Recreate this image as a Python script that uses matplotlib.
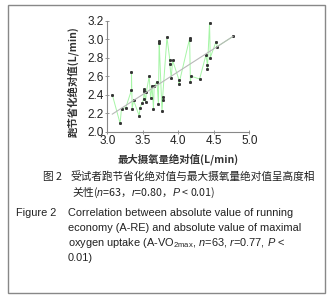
import matplotlib.pyplot as plt
from matplotlib.patches import Rectangle

plt.rcParams['font.family'] = ['Liberation Sans', 'Noto Sans CJK SC', 'DejaVu Sans']
plt.rcParams['mathtext.fontset'] = 'custom'
plt.rcParams['mathtext.rm'] = 'Liberation Sans'
plt.rcParams['mathtext.it'] = 'Liberation Sans:italic'

# data (in drawing order of the green line)
vo2_abs = [3.07, 3.18, 3.20, 3.26, 3.34, 3.34, 3.35, 3.37, 3.45, 3.46, 3.49, 3.51,
           3.52, 3.52, 3.54, 3.55, 3.59, 3.61, 3.63, 3.65, 3.66, 3.70, 3.72, 3.73,
           3.73, 3.77, 3.78, 3.78, 3.84, 3.88, 3.88, 3.90, 3.92, 4.01, 4.01, 4.16,
           4.16, 4.17, 4.18, 4.30, 4.39, 4.41, 4.41, 4.44, 4.45, 4.53, 4.55, 4.77]
re_abs = [2.40, 2.09, 2.25, 2.26, 2.45, 2.65, 2.25, 2.34, 2.17, 2.26, 2.31, 2.35,
          2.46, 2.44, 2.32, 2.43, 2.60, 2.36, 2.49, 2.25, 2.49, 2.54, 2.30, 2.96,
          2.98, 2.22, 2.34, 2.38, 3.02, 2.78, 2.73, 2.58, 2.77, 2.56, 2.52, 3.01,
          2.99, 2.54, 2.60, 2.57, 2.83, 2.72, 2.68, 3.18, 2.80, 2.97, 2.92, 3.03]
trend_x = [3.07, 4.77]
trend_y = [2.19, 3.03]
x_ticks = [3.0, 3.5, 4.0, 4.5, 5.0]
y_ticks = [2.0, 2.2, 2.4, 2.6, 2.8, 3.0, 3.2]

fig = plt.figure(figsize=(3.34, 3.0), dpi=100)
ax = fig.add_axes([0.3213, 0.561, 0.4251, 0.37])

ax.plot(vo2_abs, re_abs, color='#a6f5a6', lw=0.7, marker='s', markersize=1.1,
        markerfacecolor='#333333', markeredgecolor='#333333', zorder=2)
ax.plot(trend_x, trend_y, color='#b8b8b8', lw=0.8, zorder=3)

ax.set_xlim(3.0, 5.0)
ax.set_ylim(2.0, 3.2)
ax.set_xticks(x_ticks)
ax.set_yticks(y_ticks)
ax.set_xticklabels([f'{v:.1f}' for v in x_ticks])
ax.set_yticklabels([f'{v:.1f}' for v in y_ticks])
ax.tick_params(labelsize=8.5, length=3, width=0.6, color='#888888', direction='inout',
               labelcolor='#222222', pad=1)
for s in ['top', 'right']:
    ax.spines[s].set_visible(False)
for s in ['left', 'bottom']:
    ax.spines[s].set_color('#888888')
    ax.spines[s].set_linewidth(0.8)

cjk = ['Noto Sans CJK SC', 'DejaVu Sans']
fig.text(73 / 334, 1 - 82 / 300, '跑节省化绝对值(L/min)', rotation=90, ha='center',
         va='center', fontsize=7.5, family=cjk, weight='bold', color='#333333')
fig.text(178 / 334, 1 - 159 / 300, '最大摄氧量绝对值(L/min)', ha='center', va='center',
         fontsize=7.5, family=cjk, weight='bold', color='#333333')

# captions
fig.text(43 / 334, 1 - 177 / 300, '图 2', ha='left', va='center', fontsize=7.7,
         family=cjk, color='#222222')
fig.text(70 / 334, 1 - 177 / 300, '受试者跑节省化绝对值与最大摄氧量绝对值呈高度相',
         ha='left', va='center', fontsize=7.7, family=cjk, color='#222222')
fig.text(72 / 334, 1 - 192 / 300, '关性($n$=63，$r$=0.80，$P$ < 0.01)', ha='left',
         va='center', fontsize=7.7, family=cjk, color='#222222')

eng = ['Correlation between absolute value of running',
       'economy (A-RE) and absolute value of maximal',
       'oxygen uptake (A-VO$_{\\rm 2max}$, $n$=63, $r$=0.77, $P$ <',
       '0.01)']
fig.text(16 / 334, 1 - 212.7 / 300, 'Figure 2', ha='left', va='center', fontsize=7.9,
         color='#222222')
for i, line in enumerate(eng):
    fig.text(68 / 334, 1 - (212.7 + 15 * i) / 300, line, ha='left', va='center',
             fontsize=7.9, color='#222222')

fig.patches.append(Rectangle((8 / 334, 1 - 293 / 300), 317 / 334, 288 / 300,
                             transform=fig.transFigure, fill=False,
                             edgecolor='#888888', lw=1))

fig.savefig('out.png', dpi=100)
